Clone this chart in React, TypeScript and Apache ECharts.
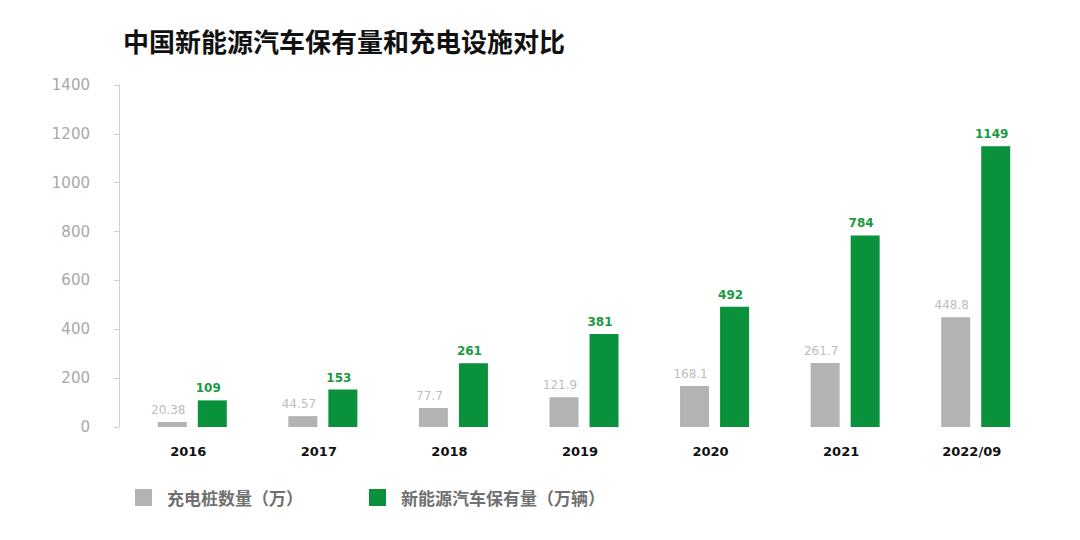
import React, { useEffect, useRef } from "react";
import * as echarts from "echarts";

const categories = ["2016", "2017", "2018", "2019", "2020", "2021", "2022/09"];
const chargerValues = [20.38, 44.57, 77.7, 121.9, 168.1, 261.7, 448.8];
const evValues = [109, 153, 261, 381, 492, 784, 1149];
const chargerName = "充电桩数量（万）";
const evName = "新能源汽车保有量（万辆）";
const titleText = "中国新能源汽车保有量和充电设施对比";

const GREY = "#b3b3b3";
const GREEN = "#09913b";
const NUM_FONT = "DejaVu Sans";
const CJK_FONT = "Noto Sans CJK SC";

export default function App() {
  const ref = useRef<HTMLDivElement>(null);
  useEffect(() => {
    if (!ref.current) return;
    const chart = echarts.init(ref.current, null, { renderer: "svg" });
    chart.setOption({
      animation: false,
      backgroundColor: "#ffffff",
      title: {
        text: titleText,
        left: 110,
        top: 14,
        textStyle: { fontFamily: CJK_FONT, fontWeight: "bold", fontSize: 26, color: "#111111" },
      },
      legend: {
        left: 122,
        top: 476,
        icon: "rect",
        itemWidth: 17,
        itemHeight: 17,
        itemGap: 66,
        data: [chargerName, evName],
        textStyle: {
          fontFamily: CJK_FONT,
          fontWeight: "bold",
          fontSize: 17,
          color: "#707070",
          padding: [0, 0, 0, 10],
        },
      },
      grid: { left: 119, right: 31, top: 77, bottom: 105, containLabel: false },
      xAxis: {
        type: "category",
        data: categories,
        axisLine: { show: false },
        axisTick: { show: false },
        axisLabel: {
          margin: 18,
          fontFamily: NUM_FONT,
          fontWeight: "bold",
          fontSize: 13,
          color: "#111111",
          padding: [0, 8, 0, 0],
        },
      },
      yAxis: {
        type: "value",
        min: 0,
        max: 1400,
        interval: 200,
        offset: 8,
        axisLine: { show: true, lineStyle: { color: "#d0d0d0", width: 1 } },
        axisTick: { show: true, length: 5, lineStyle: { color: "#d0d0d0" } },
        splitLine: { show: false },
        axisLabel: {
          margin: 29,
          fontFamily: NUM_FONT,
          fontSize: 15,
          color: "#a8a8a8",
          formatter: (v: number) => String(v),
        },
      },
      series: [
        {
          name: chargerName,
          type: "bar",
          data: chargerValues,
          barWidth: 29,
          barGap: "38%",
          itemStyle: { color: GREY },
          label: {
            show: true,
            position: "top",
            distance: 6,
            offset: [-4, 0],
            fontFamily: NUM_FONT,
            fontSize: 12,
            color: "#bdbdbd",
          },
        },
        {
          name: evName,
          type: "bar",
          data: evValues,
          barWidth: 29,
          itemStyle: { color: GREEN },
          label: {
            show: true,
            position: "top",
            distance: 6,
            offset: [-4, 0],
            fontFamily: NUM_FONT,
            fontWeight: "bold",
            fontSize: 12,
            color: "#1a9a40",
          },
        },
      ],
    });
    return () => chart.dispose();
  }, []);
  return <div ref={ref} style={{ width: 1064, height: 524 }} />;
}
